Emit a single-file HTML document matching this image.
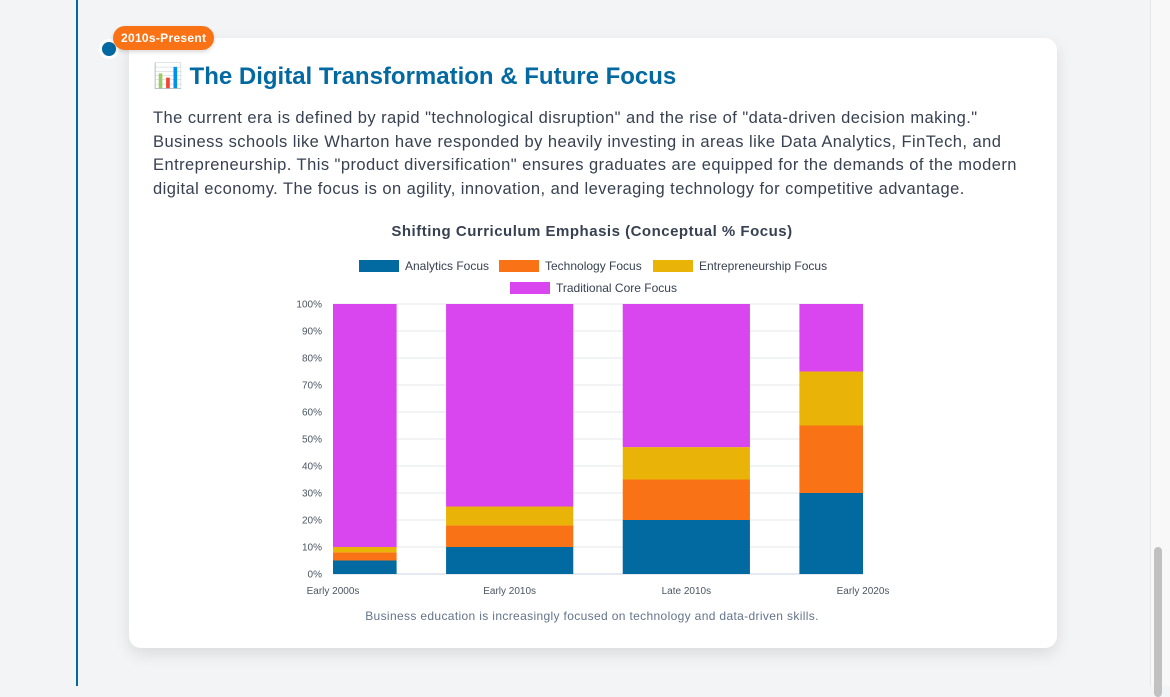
<!DOCTYPE html>
<html><head><meta charset="utf-8"><style>
body{margin:0;width:1170px;height:686px;overflow:hidden;background:#f3f4f6;font-family:"Liberation Sans",sans-serif;position:relative}
.line{position:absolute;left:76px;top:0;width:2px;height:686px;background:#0369a1}
.dot{position:absolute;left:99px;top:39px;width:14px;height:14px;border-radius:50%;background:#0369a1;border:3px solid #fff}
.badge{position:absolute;left:113px;top:26px;height:24px;padding:0 8px;border-radius:12px;background:#f97316;color:#fff;font-weight:bold;font-size:12px;line-height:24px;letter-spacing:0.3px;box-shadow:0 2px 4px rgba(0,0,0,.15);z-index:2}
.card{position:absolute;left:129px;top:38px;width:928px;height:610px;background:#fff;border-radius:12px;box-shadow:0 6px 16px rgba(0,0,0,.1)}
h2{position:absolute;left:24px;top:24px;margin:0;font-size:24px;color:#0369a1;font-weight:bold}
p{position:absolute;left:24px;top:69px;width:880px;margin:0;font-size:16.5px;letter-spacing:0.45px;line-height:23.5px;color:#374151}
.sb{position:absolute;left:1150px;top:0;width:20px;height:686px;background:#f8f8f8;border-left:1px solid #e5e5e5}
.thumb{position:absolute;left:1154px;top:547px;width:8px;height:150px;border-radius:4px;background:#c1c1c1}
</style></head><body>
<div class="line"></div>
<div class="dot"></div>
<div class="badge">2010s-Present</div>
<div class="card">
<h2>📊 The Digital Transformation &amp; Future Focus</h2>
<p>The current era is defined by rapid "technological disruption" and the rise of "data-driven decision making." Business schools like Wharton have responded by heavily investing in areas like Data Analytics, FinTech, and Entrepreneurship. This "product diversification" ensures graduates are equipped for the demands of the modern digital economy. The focus is on agility, innovation, and leveraging technology for competitive advantage.</p>
</div>
<svg id="chart" width="1170" height="686" style="position:absolute;left:0;top:0"></svg>
<div class="sb"></div>
<div class="thumb"></div>
<script>
const categories=["Early 2000s","Early 2010s","Late 2010s","Early 2020s"];
const analytics=[5,10,20,30];
const technology=[3,8,15,25];
const entrepreneurship=[2,7,12,20];
const traditional=[90,75,53,25];
const seriesNames=["Analytics Focus","Technology Focus","Entrepreneurship Focus","Traditional Core Focus"];
const yTicks=[0,10,20,30,40,50,60,70,80,90,100];
const colors=["#0369a1","#f97316","#eab308","#d946ef"];
const ns="http://www.w3.org/2000/svg";
const svg=document.getElementById('chart');
const X0=333,X1=863,Y0=574,Y1=304;
const step=(X1-X0)/(categories.length-1);
const bw=step*0.72;
const xs=i=>X0+i*step;
const ys=v=>Y0-(v/100)*(Y0-Y1);
function mk(t,a,txt){const e=document.createElementNS(ns,t);for(const k in a)e.setAttribute(k,a[k]);if(txt!=null)e.textContent=txt;svg.appendChild(e);return e;}
let e=mk('text',{x:592,y:236,'text-anchor':'middle','font-size':15,'letter-spacing':0.5,'font-weight':'bold',fill:'#374151','font-family':'Liberation Sans'},'Shifting Curriculum Emphasis (Conceptual % Focus)');


const leg=[[359,260],[499,260],[653,260],[510,282]];
seriesNames.forEach((n,i)=>{
 let r=mk('rect',{x:leg[i][0],y:leg[i][1],width:40,height:12,fill:colors[i]});
 
 
 let t=mk('text',{x:leg[i][0]+46,y:leg[i][1]+10,'font-size':12,fill:'#374151','font-family':'Liberation Sans'},n);
 
 
});
yTicks.forEach(v=>{
 let l=mk('line',{x1:X0,x2:X1,y1:ys(v),y2:ys(v),stroke:v===0?'#cbd5e1':'#e5e7eb','stroke-width':1});
 
 
 let t=mk('text',{x:322,y:ys(v)+3.5,'text-anchor':'end','font-size':10,fill:'#4b5563','font-family':'Liberation Sans'},v+'%');
 
 
});
const cp=mk('clipPath',{id:'cp'});
const cr=document.createElementNS(ns,'rect');cr.setAttribute('x',X0);cr.setAttribute('y',Y1-2);cr.setAttribute('width',X1-X0);cr.setAttribute('height',Y0-Y1+4);cp.appendChild(cr);
const series=[analytics,technology,entrepreneurship,traditional];
categories.forEach((c,i)=>{
 let base=0;
 series.forEach((s,j)=>{
  let r=mk('rect',{x:xs(i)-bw/2,y:ys(base+s[i]),width:bw,height:ys(base)-ys(base+s[i]),fill:colors[j],'clip-path':'url(#cp)'});
  
  
  base+=s[i];
 });
 let t=mk('text',{x:xs(i),y:594,'text-anchor':'middle','font-size':10,fill:'#4b5563','font-family':'Liberation Sans'},c);
 
 
});
e=mk('text',{x:592,y:620,'text-anchor':'middle','font-size':12,'letter-spacing':0.35,fill:'#64748b','font-family':'Liberation Sans'},'Business education is increasingly focused on technology and data-driven skills.');


</script>
</body></html>
